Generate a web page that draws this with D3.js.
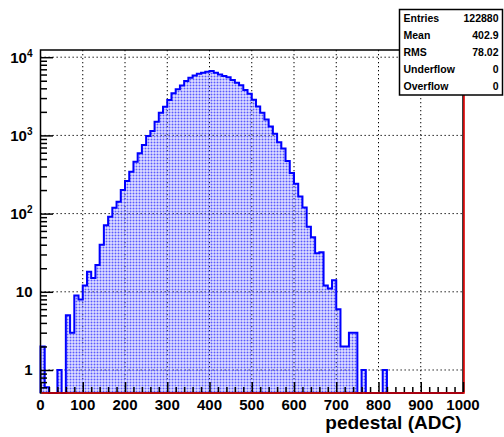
<!DOCTYPE html>
<html>
<head>
<meta charset="utf-8">
<script src="https://cdn.jsdelivr.net/npm/d3@7"></script>
<style>
body { margin: 0; background: #fff; }
svg { display: block; font-family: "Liberation Sans", Arial, sans-serif; }
</style>
</head>
<body>
<div id="vis"></div>
<script>
// pedestal histogram, 100 bins of 10 ADC (counts)
const binWidth = 10
const counts = [
    2, 0.6, 0, 0, 1, 0, 5, 3, 9, 8,
    12, 18, 15, 22, 40, 71, 91, 119, 142, 200,
    261, 343, 461, 590, 754, 980, 1140, 1500, 1950, 2330,
    2830, 3450, 3890, 4350, 4950, 5450, 5850, 6150, 6340, 6530,
    6660, 6340, 6000, 5750, 5550, 5100, 4720, 4380, 3800, 3420,
    2850, 2350, 1950, 1600, 1300, 1050, 820, 680, 470, 330,
    240, 165, 120, 68, 50, 31, 32, 12, 11, 14,
    6, 2, 2, 3, 3, 0, 1, 0, 0, 0,
    0, 1, 0, 0, 0, 0, 0, 0, 0, 0,
    0, 0, 0, 0, 0, 0, 0, 0, 0, 0
]
const xTicks = [0, 100, 200, 300, 400, 500, 600, 700, 800, 900, 1000]
const yTicks = [1, 10, 100, 1000, 10000]
const statNames = ['Entries', 'Mean', 'RMS', 'Underflow', 'Overflow']
const statValues = ['122880', '402.9', '78.02', '0', '0']
const xTitle = 'pedestal (ADC)'

const W = 504, H = 437
const frame = {left: 40.5, right: 463, top: 50, bottom: 393}

const x = d3.scaleLinear().domain([0, 1000]).range([frame.left, frame.right])
const y = d3.scaleLog().domain([0.508, 12360]).range([frame.bottom, frame.top])
const yMin = y.domain()[0]

const svg = d3.select('#vis').append('svg')
    .attr('width', W)
    .attr('height', H)

// dot fill like ROOT style 3001
const defs = svg.append('defs')
defs.append('pattern')
    .attr('id', 'dots')
    .attr('patternUnits', 'userSpaceOnUse')
    .attr('width', 3).attr('height', 3)
  .append('rect')
    .attr('x', 0.5).attr('y', 0.5)
    .attr('width', 2).attr('height', 2)
    .attr('fill', '#5a5aff')

// grid
const grid = svg.append('g').attr('stroke', '#000').attr('stroke-width', 1)
    .attr('stroke-dasharray', '1.3,2.7')
grid.selectAll('.vgrid')
    .data(xTicks.slice(1, -1))
    .join('line')
    .attr('x1', d => x(d)).attr('x2', d => x(d))
    .attr('y1', frame.top).attr('y2', frame.bottom)
grid.selectAll('.hgrid')
    .data(yTicks)
    .join('line')
    .attr('x1', frame.left).attr('x2', frame.right)
    .attr('y1', d => y(d)).attr('y2', d => y(d))

// histogram
const pts = []
counts.forEach((c, i) => {
    const v = Math.max(c, yMin)
    pts.push([i * binWidth, v], [(i + 1) * binWidth, v])
})
const area = d3.area()
    .x(d => x(d[0]))
    .y0(frame.bottom)
    .y1(d => y(d[1]))
svg.append('path')
    .datum(pts)
    .attr('d', area)
    .attr('fill', 'url(#dots)')

const line = d3.line().x(d => x(d[0])).y(d => y(d[1]))
svg.append('path')
    .datum([[0, yMin]].concat(pts))
    .attr('d', line)
    .attr('fill', 'none')
    .attr('stroke', '#0000ff')
    .attr('stroke-width', 2)

// frame
svg.append('rect')
    .attr('x', frame.left).attr('y', frame.top)
    .attr('width', frame.right - frame.left)
    .attr('height', frame.bottom - frame.top)
    .attr('fill', 'none')
    .attr('stroke', '#000')
    .attr('stroke-width', 1.5)

// red empty histogram along the frame
svg.append('path')
    .datum([[0, yMin], [1000, yMin], [1000, y.domain()[1]]])
    .attr('d', line)
    .attr('transform', 'translate(1,0)')
    .attr('fill', 'none')
    .attr('stroke', '#e00000')
    .attr('stroke-width', 1.6)

// y ticks (inside frame)
const yMinor = []
;[0.1, 1, 10, 100, 1000].forEach(dec => {
    [2, 3, 4, 5, 6, 7, 8, 9].forEach(k => {
        const v = dec * k
        if (v > yMin && v < y.domain()[1]) yMinor.push(v)
    })
})
svg.append('g')
    .attr('transform', `translate(${frame.left},0)`)
    .call(d3.axisRight(y).tickValues(yTicks).tickSize(12.5).tickFormat(''))
    .call(g => g.select('.domain').remove())
    .call(g => g.selectAll('.tick line').attr('stroke-width', 1.5))
svg.append('g')
    .attr('transform', `translate(${frame.left},0)`)
    .call(d3.axisRight(y).tickValues(yMinor).tickSize(6.5).tickFormat(''))
    .call(g => g.select('.domain').remove())
    .call(g => g.selectAll('.tick line').attr('stroke-width', 1.5))

// x ticks (inside frame)
const xMinor = d3.range(0, 1001, 20).filter(v => v % 100 !== 0)
svg.append('g')
    .attr('transform', `translate(0,${frame.bottom - 1})`)
    .call(d3.axisTop(x).tickValues(xTicks).tickSize(10).tickFormat(''))
    .call(g => g.select('.domain').remove())
    .call(g => g.selectAll('.tick line').attr('stroke-width', 1.5))
svg.append('g')
    .attr('transform', `translate(0,${frame.bottom - 1})`)
    .call(d3.axisTop(x).tickValues(xMinor).tickSize(5).tickFormat(''))
    .call(g => g.select('.domain').remove())
    .call(g => g.selectAll('.tick line').attr('stroke-width', 1.5))

// x labels
svg.append('g').selectAll('text')
    .data(xTicks)
    .join('text')
    .attr('x', d => x(d))
    .attr('y', 409.5)
    .attr('text-anchor', 'middle')
    .attr('font-size', '15px')
    .attr('font-weight', 'bold')
    .text(d => d)

// y labels, 10^n with superscript
const yLab = svg.append('g').selectAll('text')
    .data(yTicks)
    .join('text')
    .attr('x', 32.5)
    .attr('y', d => y(d) + 5.5)
    .attr('text-anchor', 'end')
    .attr('font-size', '15px')
    .attr('font-weight', 'bold')
yLab.each(function(d) {
    const e = Math.round(Math.log10(d))
    const t = d3.select(this)
    if (e < 2) { t.text(d); return }
    t.append('tspan').text('10')
    t.append('tspan').attr('dy', -6).attr('font-size', '10px').text(e)
})

// axis title
svg.append('text')
    .attr('x', 461.5)
    .attr('y', 429)
    .attr('text-anchor', 'end')
    .attr('font-size', '19px')
    .attr('font-weight', 'bold')
    .text(xTitle)

// stats box
const box = {x: 399.5, y: 9.5, w: 103, h: 85.5}
svg.append('rect')
    .attr('x', box.x).attr('y', box.y)
    .attr('width', box.w).attr('height', box.h)
    .attr('fill', '#fff')
    .attr('stroke', '#000')
    .attr('stroke-width', 1.5)
const rowY = d3.scaleBand().domain(statNames).range([box.y, box.y + box.h])
const stats = svg.append('g')
    .attr('font-size', '10.5px')
    .attr('font-weight', 'bold')
stats.selectAll('.sname')
    .data(statNames)
    .join('text')
    .attr('x', box.x + 4)
    .attr('y', d => rowY(d) + rowY.bandwidth() / 2 + 4)
    .text(d => d)
stats.selectAll('.sval')
    .data(statValues)
    .join('text')
    .attr('x', box.x + box.w - 4)
    .attr('y', (d, i) => rowY(statNames[i]) + rowY.bandwidth() / 2 + 4)
    .attr('text-anchor', 'end')
    .text(d => d)
</script>
</body>
</html>
